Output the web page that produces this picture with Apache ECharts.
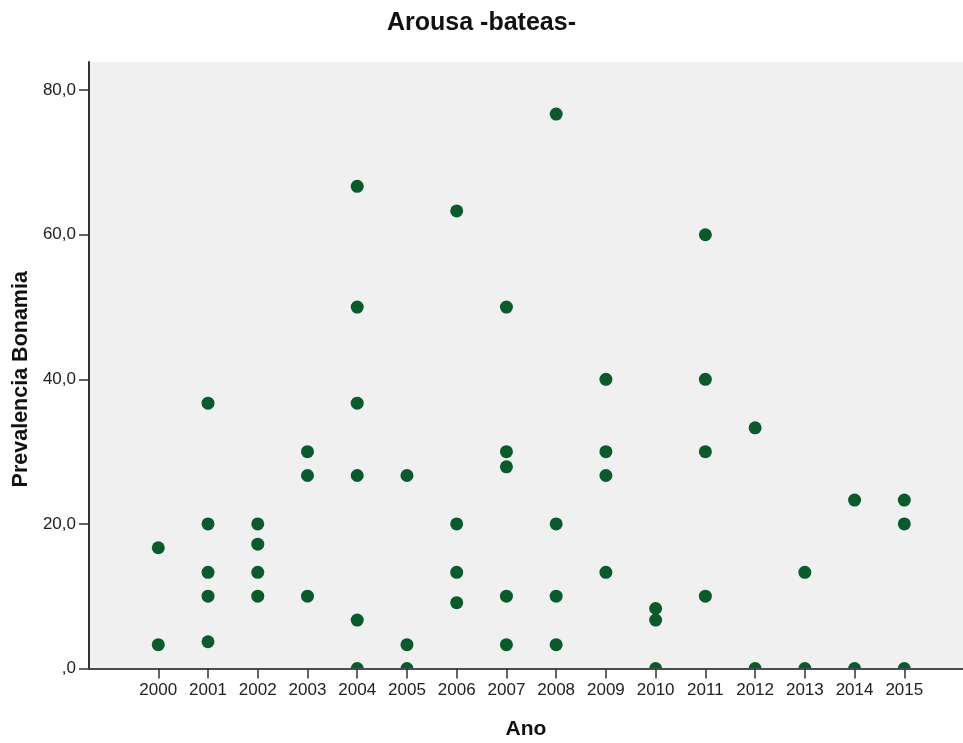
<!DOCTYPE html>
<html>
<head>
<meta charset="utf-8">
<script src="https://cdn.jsdelivr.net/npm/echarts@6/dist/echarts.min.js"></script>
<style>
  html, body { margin: 0; padding: 0; background: #ffffff; }
  #chart { width: 963px; height: 743px; }
</style>
</head>
<body>
<div id="chart"></div>
<script>
// Sampling years
const anos = [2000, 2001, 2002, 2003, 2004, 2005, 2006, 2007,
              2008, 2009, 2010, 2011, 2012, 2013, 2014, 2015];

// Bonamia prevalence (%) per sample, grouped by year (same order as anos)
const prev2000 = [16.7, 3.3];
const prev2001 = [36.7, 20, 13.3, 10, 3.7];
const prev2002 = [20, 17.2, 13.3, 10];
const prev2003 = [30, 26.7, 10];
const prev2004 = [66.7, 50, 36.7, 26.7, 6.7, 0];
const prev2005 = [26.7, 3.3, 0];
const prev2006 = [63.3, 20, 13.3, 9.1];
const prev2007 = [50, 30, 27.9, 10, 3.3];
const prev2008 = [76.7, 20, 10, 3.3];
const prev2009 = [40, 30, 26.7, 13.3];
const prev2010 = [8.3, 6.7, 0];
const prev2011 = [60, 40, 30, 10];
const prev2012 = [33.3, 0];
const prev2013 = [13.3, 0];
const prev2014 = [23.3, 0];
const prev2015 = [23.3, 20, 0];

const prevalencia = [prev2000, prev2001, prev2002, prev2003, prev2004, prev2005,
  prev2006, prev2007, prev2008, prev2009, prev2010, prev2011,
  prev2012, prev2013, prev2014, prev2015];

// Y tick values
const yTicks = [0, 20, 40, 60, 80];

const puntos = [];
anos.forEach((ano, i) => {
  prevalencia[i].forEach(v => puntos.push([ano, v]));
});

const FONT = 'Liberation Sans, Arial, Helvetica, sans-serif';
const AXIS_COLOR = '#333333';
const DOT_COLOR = '#0a5a2c';
const DOT_RADIUS = 6.5;

const chart = echarts.init(document.getElementById('chart'), null, { renderer: 'canvas' });
chart.setOption({
  animation: false,
  backgroundColor: '#ffffff',
  title: {
    text: 'Arousa -bateas-',
    left: 'center',
    top: 6,
    textStyle: { fontFamily: FONT, fontSize: 25, fontWeight: 'bold', color: '#111111' }
  },
  grid: {
    left: 89, right: 0, top: 62, bottom: 74.5,
    outerBoundsMode: 'none',
    containLabel: false,
    show: true, backgroundColor: '#f0f0f0', borderWidth: 0
  },
  xAxis: [{
    type: 'value',
    min: 1998.607,
    max: 2016.18,
    z: 10,
    name: 'Ano',
    nameLocation: 'middle',
    nameGap: 50,
    nameTextStyle: { fontFamily: FONT, fontSize: 21, fontWeight: 'bold', color: '#111111' },
    splitLine: { show: false },
    axisLine: { show: true, onZero: false, lineStyle: { color: AXIS_COLOR, width: 2 } },
    axisTick: { show: true, customValues: anos, length: 10, lineStyle: { color: AXIS_COLOR, width: 1.5 } },
    axisLabel: {
      customValues: anos, margin: 13,
      fontFamily: FONT, fontSize: 17, color: '#222222',
      formatter: v => String(v)
    }
  }, {
    // upper frame line of the plot area
    type: 'value',
    position: 'top',
    min: 1998.607,
    max: 2016.18,
    z: 10,
    axisLine: { show: true, lineStyle: { color: '#555555', width: 1.5 } },
    axisTick: { show: false },
    axisLabel: { show: false },
    splitLine: { show: false }
  }],
  yAxis: {
    type: 'value',
    min: 0,
    max: 83.9,
    z: 10,
    name: 'Prevalencia Bonamia',
    nameLocation: 'middle',
    nameGap: 56,
    nameTextStyle: {
      fontFamily: FONT, fontSize: 21.5, fontWeight: 'bold', color: '#111111',
      padding: [0, 28, 0, 0]
    },
    splitLine: { show: false },
    axisLine: { show: true, onZero: false, lineStyle: { color: AXIS_COLOR, width: 2 } },
    axisTick: { show: true, customValues: yTicks, length: 10, lineStyle: { color: AXIS_COLOR, width: 1.5 } },
    axisLabel: {
      customValues: yTicks, margin: 13,
      fontFamily: FONT, fontSize: 17, color: '#222222',
      formatter: v => v === 0 ? ',0' : v.toFixed(1).replace('.', ',')
    }
  },
  series: [{
    // dots are clipped by the plot area, so zero values show as half discs
    type: 'custom',
    xAxisIndex: 0,
    data: puntos,
    clip: true,
    encode: { x: 0, y: 1 },
    renderItem: (params, api) => {
      const p = api.coord([api.value(0), api.value(1)]);
      return {
        type: 'circle',
        shape: { cx: p[0], cy: p[1], r: DOT_RADIUS },
        style: { fill: DOT_COLOR }
      };
    }
  }]
});
</script>
</body>
</html>
